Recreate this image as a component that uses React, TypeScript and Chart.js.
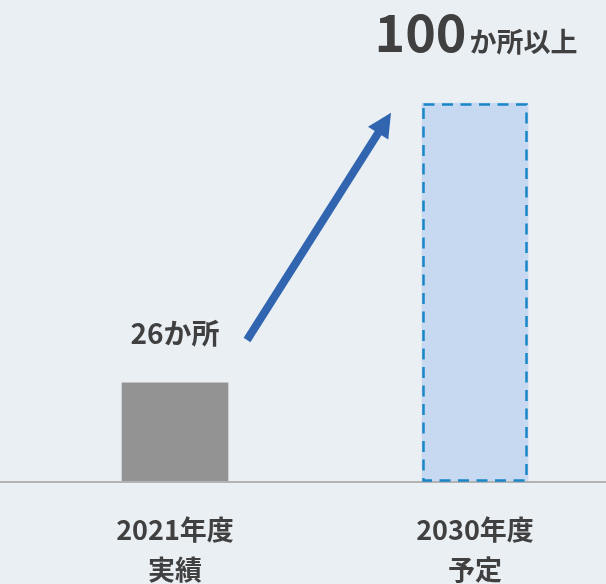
import React, { useEffect, useRef } from "react";
import { Chart, registerables } from "chart.js";

Chart.register(...registerables);

const categories: string[][] = [
  ["2021年度", "実績"],
  ["2030年度", "予定"],
];
const values: number[] = [26, 100];
const valueSuffixes: string[] = ["か所", "か所以上"];
const barColors: string[] = ["#939393", "#c6d9f0"];

const FONT = "'Noto Sans CJK JP', 'Noto Sans', sans-serif";
const TEXT = "#404040";

const overlayPlugin = {
  id: "overlay",
  beforeDraw(chart: any) {
    const { ctx, width, height } = chart;
    ctx.save();
    ctx.fillStyle = "#eaeff4";
    ctx.fillRect(0, 0, width, height);
    ctx.restore();
  },
  afterDatasetsDraw(chart: any) {
    const { ctx, width } = chart;
    const meta = chart.getDatasetMeta(0);
    const yScale = chart.scales.y;
    const xScale = chart.scales.x;
    const base = yScale.getPixelForValue(0);

    // baseline
    ctx.save();
    ctx.strokeStyle = "#b3b3b3";
    ctx.lineWidth = 2;
    ctx.beginPath();
    ctx.moveTo(0, base + 1);
    ctx.lineTo(width, base + 1);
    ctx.stroke();
    ctx.restore();

    // dashed border on the projected bar
    const bar = meta.data[1];
    if (bar) {
      const p = bar.getProps(["x", "y", "base", "width"], true);
      const l = p.x - p.width / 2 + 1.5;
      const r = p.x + p.width / 2 - 1.5;
      ctx.save();
      ctx.strokeStyle = "#1a86c8";
      ctx.lineWidth = 2.5;
      ctx.setLineDash([11, 7.5]);
      ctx.strokeRect(l, p.y + 1.5, r - l, p.base - p.y - 2);
      ctx.restore();
    }

    // value labels
    ctx.save();
    ctx.fillStyle = TEXT;
    ctx.textBaseline = "alphabetic";
    const b0 = meta.data[0].getProps(["x", "y"], true);
    ctx.font = `bold 28px ${FONT}`;
    ctx.textAlign = "center";
    ctx.fillText(`${values[0]}${valueSuffixes[0]}`, b0.x, b0.y - 39);

    const b1 = meta.data[1].getProps(["x", "y"], true);
    ctx.font = `bold 52px ${FONT}`;
    const bigText = `${values[1]}`;
    const wBig = ctx.measureText(bigText).width;
    ctx.font = `bold 27px ${FONT}`;
    const smallText = valueSuffixes[1];
    const wSmall = ctx.measureText(smallText).width;
    const gap = 3;
    const startX = b1.x + 1 - (wBig + gap + wSmall) / 2;
    ctx.textAlign = "left";
    ctx.font = `bold 52px ${FONT}`;
    ctx.fillText(bigText, startX, 52);
    ctx.font = `bold 27px ${FONT}`;
    ctx.fillText(smallText, startX + wBig + gap, 52);
    ctx.restore();

    // arrow
    const sx = xScale.getPixelForValue(0) + 72;
    const sy = yScale.getPixelForValue(37.3);
    const tx = xScale.getPixelForValue(1) - 84;
    const ty = yScale.getPixelForValue(97.4);
    const ang = Math.atan2(ty - sy, tx - sx);
    const headLen = 24;
    const headW = 12;
    const bx = tx - headLen * Math.cos(ang);
    const by = ty - headLen * Math.sin(ang);
    ctx.save();
    ctx.strokeStyle = "#3165b0";
    ctx.fillStyle = "#3165b0";
    ctx.lineWidth = 8;
    ctx.lineCap = "butt";
    ctx.beginPath();
    ctx.moveTo(sx, sy);
    ctx.lineTo(bx + 2 * Math.cos(ang), by + 2 * Math.sin(ang));
    ctx.stroke();
    ctx.beginPath();
    ctx.moveTo(tx, ty);
    ctx.lineTo(bx + headW * Math.sin(ang), by - headW * Math.cos(ang));
    ctx.lineTo(bx - headW * Math.sin(ang), by + headW * Math.cos(ang));
    ctx.closePath();
    ctx.fill();
    ctx.restore();
  },
};

export default function App() {
  const ref = useRef<HTMLCanvasElement | null>(null);
  useEffect(() => {
    document.body.style.margin = "0";
    if (!ref.current) return;
    const chart = new Chart(ref.current, {
      type: "bar",
      data: {
        labels: categories,
        datasets: [
          {
            data: values,
            backgroundColor: barColors,
            borderWidth: 0,
            barThickness: 106,
            clip: false as any,
          },
        ],
      },
      options: {
        animation: false,
        responsive: false,
        layout: { padding: { left: 175, right: 131, top: 103, bottom: 0 } },
        plugins: { legend: { display: false }, tooltip: { enabled: false } },
        scales: {
          x: {
            type: "category",
            offset: false,
            grid: { display: false, drawTicks: false },
            border: { display: false },
            ticks: {
              padding: 29,
              color: TEXT,
              font: { family: FONT, size: 27, weight: "bold", lineHeight: 40 / 27 },
              maxRotation: 0,
              autoSkip: false,
            },
            afterFit: (scale: any) => {
              scale.height = 103;
            },
          },
          y: { display: false, min: 0, max: 100 },
        },
      },
      plugins: [overlayPlugin],
    });
    return () => chart.destroy();
  }, []);
  return (
    <div style={{ position: "absolute", left: 0, top: 0, width: 606, height: 584 }}>
      <canvas ref={ref} width={606} height={584} />
    </div>
  );
}
